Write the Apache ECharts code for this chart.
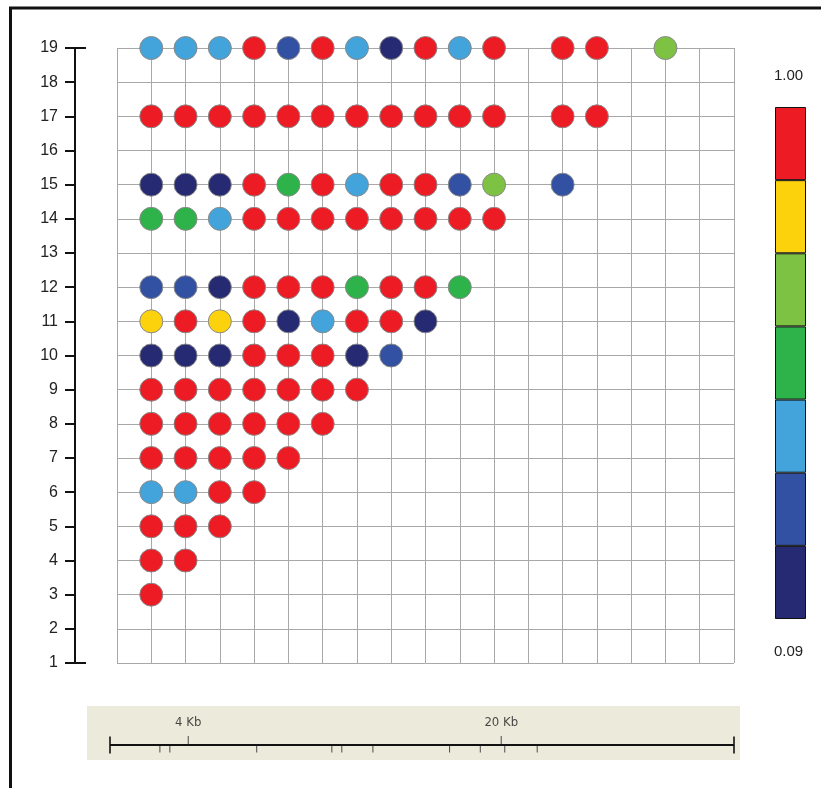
<!DOCTYPE html>
<html>
<head>
<meta charset="utf-8">
<script src="https://cdn.jsdelivr.net/npm/echarts@6/dist/echarts.min.js"></script>
<style>
  html, body { margin: 0; padding: 0; background: #fff; }
  #chart { width: 821px; height: 788px; }
</style>
</head>
<body>
<div id="chart"></div>
<script>
// Pairwise LD (r²) between markers: one array per marker row, one value per column (null = no pair)
const rowIds = [19, 17, 15, 14, 12, 11, 10, 9, 8, 7, 6, 5, 4, 3];
const ldRow19 = [0.42, 0.42, 0.42, 0.95, 0.28, 0.95, 0.42, 0.15, 0.95, 0.42, 0.95, null, 0.95, 0.95, null, 0.68];
const ldRow17 = [0.95, 0.95, 0.95, 0.95, 0.95, 0.95, 0.95, 0.95, 0.95, 0.95, 0.95, null, 0.95, 0.95];
const ldRow15 = [0.15, 0.15, 0.15, 0.95, 0.55, 0.95, 0.42, 0.95, 0.95, 0.28, 0.68, null, 0.28];
const ldRow14 = [0.55, 0.55, 0.42, 0.95, 0.95, 0.95, 0.95, 0.95, 0.95, 0.95, 0.95];
const ldRow12 = [0.28, 0.28, 0.15, 0.95, 0.95, 0.95, 0.55, 0.95, 0.95, 0.55];
const ldRow11 = [0.80, 0.95, 0.80, 0.95, 0.15, 0.42, 0.95, 0.95, 0.15];
const ldRow10 = [0.15, 0.15, 0.15, 0.95, 0.95, 0.95, 0.15, 0.28];
const ldRow9  = [0.95, 0.95, 0.95, 0.95, 0.95, 0.95, 0.95];
const ldRow8  = [0.95, 0.95, 0.95, 0.95, 0.95, 0.95];
const ldRow7  = [0.95, 0.95, 0.95, 0.95, 0.95];
const ldRow6  = [0.42, 0.42, 0.95, 0.95];
const ldRow5  = [0.95, 0.95, 0.95];
const ldRow4  = [0.95, 0.95];
const ldRow3  = [0.95];
const ldRows = [ldRow19, ldRow17, ldRow15, ldRow14, ldRow12, ldRow11, ldRow10,
                ldRow9, ldRow8, ldRow7, ldRow6, ldRow5, ldRow4, ldRow3];

// Colour classes, lowest to highest r²
const binEdges  = [0.09, 0.22, 0.35, 0.48, 0.61, 0.74, 0.87, 1.00];
const binColors = ['#262A73', '#3351A3', '#42A4DB', '#2DB34A', '#7DC243', '#FBD20B', '#ED1C24'];
const scaleTopLabel = '1.00';
const scaleBottomLabel = '0.09';

// Physical map (Kb)
const mapLengthKb = 31.9;
const markerPosKb = [2.55, 3.06, 7.50, 11.34, 11.85, 13.44, 17.36, 18.93, 20.18, 21.84];
const mapLabelKb = [4, 20];

const yMin = 1, yMax = 19, xMin = 0, xMax = 18;

const points = [];
ldRows.forEach((row, i) => {
  row.forEach((v, j) => {
    if (v !== null) points.push([j + 1, rowIds[i], v]);
  });
});

const pieces = binColors.map((c, i) => ({ min: binEdges[i], max: binEdges[i + 1], color: c }));

const font = 'Liberation Sans, Arial, sans-serif';
const narrowFont = 'Liberation Sans Narrow, Arial Narrow, DejaVu Sans Condensed, Liberation Sans, sans-serif';

const chart = echarts.init(document.getElementById('chart'), null, { renderer: 'canvas' });

const legendSeries = binColors.map((c) => ({
  type: 'bar', xAxisIndex: 1, yAxisIndex: 2, stack: 'scale',
  barWidth: '100%', data: [1], silent: true,
  itemStyle: { color: c, borderColor: '#111', borderWidth: 1 }
}));

chart.setOption({
  animation: false,
  backgroundColor: '#fff',
  grid: [
    { left: 117, top: 48, width: 617, height: 615 },
    { left: 775, top: 107, width: 31, height: 512 },
    { left: 110, top: 706, width: 624, height: 39 }
  ],
  xAxis: [
    {
      gridIndex: 0, type: 'value', min: xMin, max: xMax, interval: 1,
      axisLine: { show: false, onZero: false }, axisTick: { show: false }, axisLabel: { show: false },
      splitLine: { show: true, lineStyle: { color: '#a8a8a8', width: 1 } }
    },
    {
      gridIndex: 1, type: 'category', data: ['r2'], show: false
    },
    {
      gridIndex: 2, type: 'value', min: 0, max: mapLengthKb, show: false
    }
  ],
  yAxis: [
    {
      gridIndex: 0, type: 'value', position: 'left', min: yMin, max: yMax, interval: 1, offset: 42,
      axisLine: { show: true, onZero: false, lineStyle: { color: '#111', width: 2 } },
      axisTick: { show: true, length: 10, lineStyle: { color: '#111', width: 2 } },
      axisLabel: { margin: 17, fontSize: 16, color: '#222', fontFamily: font },
      splitLine: { show: true, lineStyle: { color: '#a8a8a8', width: 1 } }
    },
    {
      // end caps of the marker axis
      gridIndex: 0, type: 'value', position: 'left', min: yMin, max: yMax, interval: yMax - yMin, offset: 42,
      axisLine: { show: false, onZero: false },
      axisTick: { show: true, inside: true, length: 11, lineStyle: { color: '#111', width: 2 } },
      axisLabel: { show: false }, splitLine: { show: false }
    },
    {
      gridIndex: 1, type: 'value', min: 0, max: binColors.length, show: false
    },
    {
      gridIndex: 2, type: 'value', min: 0, max: 1, show: false
    }
  ],
  visualMap: {
    show: false, type: 'piecewise', seriesIndex: 0, dimension: 2, pieces: pieces
  },
  series: [
    {
      type: 'scatter', xAxisIndex: 0, yAxisIndex: 0,
      symbolSize: 23, data: points, silent: true,
      itemStyle: { borderColor: '#8a8a8a', borderWidth: 1, opacity: 1 },
      z: 5
    },
    ...legendSeries,
    {
      // map baseline
      type: 'line', xAxisIndex: 2, yAxisIndex: 3, silent: true,
      data: [[0, 0], [mapLengthKb, 0]], symbol: 'none',
      lineStyle: { color: '#111', width: 2 }, z: 3
    },
    {
      // marker positions
      type: 'scatter', xAxisIndex: 2, yAxisIndex: 3, silent: true,
      data: markerPosKb.map((p) => [p, 0]),
      symbol: 'rect', symbolSize: [1, 7], symbolOffset: [0, 4],
      itemStyle: { color: '#222' }, z: 3
    },
    {
      // labelled distance ticks
      type: 'scatter', xAxisIndex: 2, yAxisIndex: 3, silent: true,
      data: mapLabelKb.map((p) => [p, 0]),
      symbol: 'rect', symbolSize: [1, 9], symbolOffset: [0, -4.5],
      itemStyle: { color: '#222' },
      label: {
        show: true, position: 'top', distance: 7,
        formatter: (p) => p.value[0] + ' Kb',
        fontFamily: narrowFont, fontSize: 13, color: '#1a1a1a'
      },
      z: 3
    },
    {
      // end caps of the map
      type: 'scatter', xAxisIndex: 2, yAxisIndex: 3, silent: true,
      data: [[0, 0], [mapLengthKb, 0]],
      symbol: 'rect', symbolSize: [2, 17],
      itemStyle: { color: '#111' }, z: 3
    }
  ],
  graphic: [
    {
      type: 'rect', z: -10, silent: true,
      shape: { x: 10.5, y: 8, width: 900, height: 900 },
      style: { fill: null, stroke: '#111', lineWidth: 3 }
    },
    {
      type: 'rect', z: -5, silent: true,
      shape: { x: 87, y: 706, width: 653, height: 54 },
      style: { fill: '#ECEADB' }
    },
    {
      type: 'text', left: 790 - 16, top: 68, silent: true,
      style: { text: scaleTopLabel, font: '15px ' + font, fill: '#222', width: 32, align: 'center' }
    },
    {
      type: 'text', left: 790 - 16, top: 644, silent: true,
      style: { text: scaleBottomLabel, font: '15px ' + font, fill: '#222', width: 32, align: 'center' }
    }
  ]
});
</script>
</body>
</html>
